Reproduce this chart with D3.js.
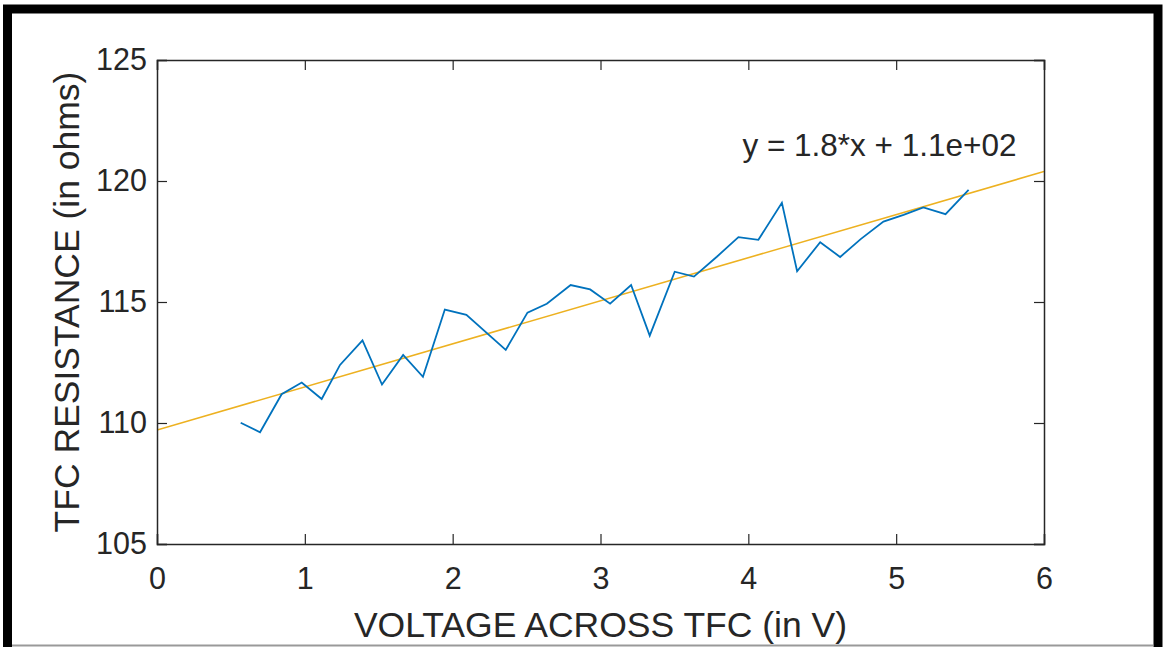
<!DOCTYPE html>
<html>
<head>
<meta charset="utf-8">
<script src="https://cdn.jsdelivr.net/npm/d3@7"></script>
<style>
  html, body { margin: 0; padding: 0; background: #fff; }
  svg { display: block; }
  text { font-family: "Liberation Sans", Arial, sans-serif; fill: #262626; }
</style>
</head>
<body>
<div id="container"></div>
<script>
// DATA

const voltage = [0.566, 0.697, 0.843, 0.979, 1.114, 1.238, 1.390, 1.522, 1.665, 1.799, 1.947,
  2.093, 2.359, 2.506, 2.637, 2.798, 2.930, 3.065, 3.207, 3.333, 3.502, 3.632, 3.787, 3.933,
  4.068, 4.227, 4.330, 4.486, 4.621, 4.760, 4.914, 5.050, 5.184, 5.334, 5.490]
const resistance = [110.01, 109.62, 111.19, 111.67, 110.99, 112.40, 113.41, 111.59, 112.81, 111.91, 114.69,
  114.47, 113.02, 114.56, 114.93, 115.70, 115.52, 114.93, 115.70, 113.61, 116.25, 116.05, 116.87, 117.68,
  117.57, 119.10, 116.27, 117.47, 116.86, 117.60, 118.32, 118.60, 118.91, 118.63, 119.63]

const xTicks = [0, 1, 2, 3, 4, 5, 6]
const yTicks = [105, 110, 115, 120, 125]
const equationText = "y = 1.8*x + 1.1e+02"

// VARIABLES

const width = 1164
const height = 647
const margin = {left: 157, right: 120, top: 60, bottom: 103}

const points = voltage.map((v, i) => ({x: v, y: resistance[i]}))

// least squares fit (like polyfit)
const mx = d3.mean(voltage)
const my = d3.mean(resistance)
const slope = d3.sum(points, d => (d.x - mx) * (d.y - my)) / d3.sum(points, d => (d.x - mx) ** 2)
const intercept = my - slope * mx

// SCALES

const xScale = d3.scaleLinear()
  .domain([0, 6])
  .range([margin.left, width - margin.right])

const yScale = d3.scaleLinear()
  .domain([105, 125])
  .range([height - margin.bottom, margin.top])

// ELEMENTS

const svg = d3.select("#container")
  .append("svg")
  .attr("width", width)
  .attr("height", height)

// outer frame
svg.append("path")
  .attr("d", `M7.5,${height} V9 H1158 V${height}`)
  .attr("fill", "none")
  .attr("stroke", "#000")
  .attr("stroke-width", 9)
svg.append("line")
  .attr("x1", 12).attr("x2", 1153)
  .attr("y1", height - 1.5).attr("y2", height - 1.5)
  .attr("stroke", "#999")
  .attr("stroke-width", 2)

const plot = svg.append("g")

// clip for lines
svg.append("clipPath").attr("id", "clip")
  .append("rect")
  .attr("x", xScale(0)).attr("y", yScale(125))
  .attr("width", xScale(6) - xScale(0))
  .attr("height", yScale(105) - yScale(125))

// fit line
plot.append("line")
  .attr("clip-path", "url(#clip)")
  .attr("x1", xScale(0))
  .attr("y1", yScale(intercept))
  .attr("x2", xScale(6))
  .attr("y2", yScale(intercept + slope * 6))
  .attr("stroke", "#EDB120")
  .attr("stroke-width", 1.6)

// data line
const line = d3.line()
  .x(d => xScale(d.x))
  .y(d => yScale(d.y))

plot.append("path")
  .datum(points)
  .attr("clip-path", "url(#clip)")
  .attr("d", line)
  .attr("fill", "none")
  .attr("stroke", "#0072BD")
  .attr("stroke-width", 1.8)
  .attr("stroke-linejoin", "miter")

// AXES (inward ticks, box on)

const tickLen = 10
const axisColor = "#262626"

const xBottom = d3.axisBottom(xScale).tickValues(xTicks).tickSize(-tickLen).tickPadding(23).tickFormat(d3.format("d"))
const xTop = d3.axisTop(xScale).tickValues(xTicks).tickSize(-tickLen).tickFormat("")
const yLeft = d3.axisLeft(yScale).tickValues(yTicks).tickSize(-tickLen).tickPadding(10).tickFormat(d3.format("d"))
const yRight = d3.axisRight(yScale).tickValues(yTicks).tickSize(-tickLen).tickFormat("")

function styleAxis(g) {
  g.select(".domain").attr("stroke", axisColor).attr("stroke-width", 1.5)
  g.selectAll(".tick line").attr("stroke", axisColor).attr("stroke-width", 1.2)
  g.selectAll(".tick text")
    .attr("font-size", 30.5)
    .attr("font-family", '"Liberation Sans", Arial, sans-serif')
    .attr("fill", "#262626")
}

svg.append("g")
  .attr("transform", `translate(0,${yScale(105)})`)
  .call(xBottom)
  .call(styleAxis)

svg.append("g")
  .attr("transform", `translate(0,${yScale(125)})`)
  .call(xTop)
  .call(styleAxis)

svg.append("g")
  .attr("transform", `translate(${xScale(0)},0)`)
  .call(yLeft)
  .call(styleAxis)

svg.append("g")
  .attr("transform", `translate(${xScale(6)},0)`)
  .call(yRight)
  .call(styleAxis)

// LABELS

svg.append("text")
  .attr("x", (xScale(0) + xScale(6)) / 2)
  .attr("y", 637)
  .attr("text-anchor", "middle")
  .attr("font-size", 35.5)
  .text("VOLTAGE ACROSS TFC (in V)")

svg.append("text")
  .attr("transform", `translate(79,${(yScale(105) + yScale(125)) / 2}) rotate(-90)`)
  .attr("text-anchor", "middle")
  .attr("font-size", 35.5)
  .text("TFC RESISTANCE (in ohms)")

svg.append("text")
  .attr("x", xScale(3.96))
  .attr("y", yScale(121.03))
  .attr("font-size", 31.5)
  .attr("fill", "#000")
  .text(equationText)
</script>
</body>
</html>
